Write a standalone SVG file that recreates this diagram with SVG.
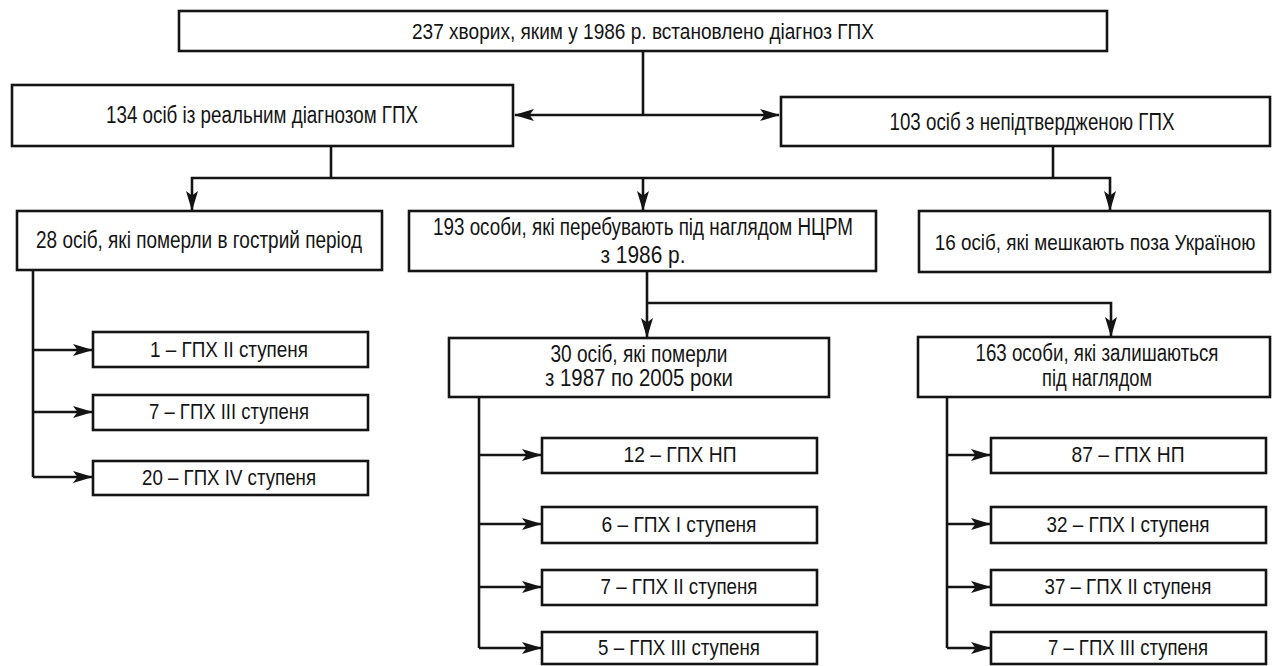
<svg xmlns="http://www.w3.org/2000/svg" width="1280" height="666" viewBox="0 0 1280 666">
<defs>
<style>
.box{fill:#fff;stroke:#141414;stroke-width:2.6}
.ln{fill:none;stroke:#141414;stroke-width:2.6}
.t{font-family:"Liberation Sans",Arial,sans-serif;font-size:23px;fill:#141414;text-anchor:middle}
.s{font-size:22px}
</style>
<marker id="ah" viewBox="0 0 20 13" refX="19" refY="6.5" markerWidth="20" markerHeight="13" markerUnits="userSpaceOnUse" orient="auto-start-reverse">
<path d="M0,0.5 L20,6.5 L0,12.5 L4.5,6.5 z" fill="#141414"/>
</marker>
</defs>
<rect width="1280" height="666" fill="#fff"/>
<g id="connectors">
<path class="ln" d="M643,51 V115"/>
<path class="ln" d="M515,115 H779" marker-start="url(#ah)" marker-end="url(#ah)"/>
<path class="ln" d="M331,146 V178"/>
<path class="ln" d="M1053,146 V178"/>
<path class="ln" d="M192,210 V178 H1110 V210" marker-start="url(#ah)" marker-end="url(#ah)"/>
<path class="ln" d="M643,178 V210" marker-end="url(#ah)"/>
<path class="ln" d="M33,270 V477"/>
<path class="ln" d="M33,350 H92" marker-end="url(#ah)"/>
<path class="ln" d="M33,412 H92" marker-end="url(#ah)"/>
<path class="ln" d="M33,477 H92" marker-end="url(#ah)"/>
<path class="ln" d="M647,271 V337" marker-end="url(#ah)"/>
<path class="ln" d="M647,303 H1111 V336" marker-end="url(#ah)"/>
<path class="ln" d="M479,397 V648"/>
<path class="ln" d="M479,455 H541" marker-end="url(#ah)"/>
<path class="ln" d="M479,524 H541" marker-end="url(#ah)"/>
<path class="ln" d="M479,587 H541" marker-end="url(#ah)"/>
<path class="ln" d="M479,648 H541" marker-end="url(#ah)"/>
<path class="ln" d="M947,397 V648"/>
<path class="ln" d="M947,455 H990" marker-end="url(#ah)"/>
<path class="ln" d="M947,524 H990" marker-end="url(#ah)"/>
<path class="ln" d="M947,587 H990" marker-end="url(#ah)"/>
<path class="ln" d="M947,648 H990" marker-end="url(#ah)"/>
</g>
<g id="n-top"><rect class="box" x="179" y="11" width="928" height="40"/><text class="t s" x="643" y="39" textLength="462" lengthAdjust="spacingAndGlyphs">237 хворих, яким у 1986 р. встановлено діагноз ГПХ</text></g>
<g id="n-real"><rect class="box" x="12" y="85" width="501" height="61"/><text class="t" x="262" y="123" textLength="312" lengthAdjust="spacingAndGlyphs">134 осіб із реальним діагнозом ГПХ</text></g>
<g id="n-unconf"><rect class="box" x="781" y="97" width="489" height="49"/><text class="t" x="1032" y="130" textLength="285" lengthAdjust="spacingAndGlyphs">103 осіб з непідтвердженою ГПХ</text></g>
<g id="n-died-acute"><rect class="box" x="17" y="211" width="365" height="59"/><text class="t" x="199" y="248" textLength="326" lengthAdjust="spacingAndGlyphs">28 осіб, які померли в гострий період</text></g>
<g id="n-observed"><rect class="box" x="409" y="211" width="467" height="60"/><text class="t" x="643" y="235" textLength="420" lengthAdjust="spacingAndGlyphs">193 особи, які перебувають під наглядом НЦРМ</text><text class="t" x="643" y="263" textLength="85" lengthAdjust="spacingAndGlyphs">з 1986 р.</text></g>
<g id="n-abroad"><rect class="box" x="919" y="211" width="351" height="61"/><text class="t" transform="translate(1095 250) scale(0.84 1)" x="0" y="0" style="font-size:22.5px">16 осіб, які мешкають поза Україною</text></g>
<g id="n-a1"><rect class="box" x="93" y="332" width="275" height="35"/><text class="t s" x="229" y="357" textLength="158" lengthAdjust="spacingAndGlyphs">1 – ГПХ II ступеня</text></g>
<g id="n-a2"><rect class="box" x="93" y="395" width="275" height="35"/><text class="t s" x="229" y="419" textLength="160" lengthAdjust="spacingAndGlyphs">7 – ГПХ III ступеня</text></g>
<g id="n-a3"><rect class="box" x="93" y="461" width="275" height="34"/><text class="t s" x="229" y="485" textLength="174" lengthAdjust="spacingAndGlyphs">20 – ГПХ IV ступеня</text></g>
<g id="n-died-later"><rect class="box" x="449" y="338" width="380" height="59"/><text class="t" x="639" y="362" textLength="177" lengthAdjust="spacingAndGlyphs">30 осіб, які померли</text><text class="t" x="639" y="386" textLength="188" lengthAdjust="spacingAndGlyphs">з 1987 по 2005 роки</text></g>
<g id="n-remain"><rect class="box" x="918" y="337" width="352" height="60"/><text class="t" x="1097" y="361" textLength="243" lengthAdjust="spacingAndGlyphs">163 особи, які залишаються</text><text class="t" x="1097" y="386" textLength="110" lengthAdjust="spacingAndGlyphs">під наглядом</text></g>
<g id="n-b1"><rect class="box" x="542" y="438" width="275" height="35"/><text class="t s" x="680" y="462" textLength="113" lengthAdjust="spacingAndGlyphs">12 – ГПХ НП</text></g>
<g id="n-b2"><rect class="box" x="542" y="507" width="275" height="36"/><text class="t s" x="679" y="532" textLength="155" lengthAdjust="spacingAndGlyphs">6 – ГПХ I ступеня</text></g>
<g id="n-b3"><rect class="box" x="542" y="570" width="275" height="35"/><text class="t s" x="679" y="594" textLength="157" lengthAdjust="spacingAndGlyphs">7 – ГПХ II ступеня</text></g>
<g id="n-b4"><rect class="box" x="542" y="632" width="275" height="32"/><text class="t s" x="679" y="655" textLength="162" lengthAdjust="spacingAndGlyphs">5 – ГПХ III ступеня</text></g>
<g id="n-c1"><rect class="box" x="991" y="438" width="275" height="35"/><text class="t s" x="1128" y="462" textLength="113" lengthAdjust="spacingAndGlyphs">87 – ГПХ НП</text></g>
<g id="n-c2"><rect class="box" x="991" y="507" width="275" height="36"/><text class="t s" x="1128" y="532" textLength="163" lengthAdjust="spacingAndGlyphs">32 – ГПХ I ступеня</text></g>
<g id="n-c3"><rect class="box" x="991" y="570" width="275" height="35"/><text class="t s" x="1128" y="594" textLength="167" lengthAdjust="spacingAndGlyphs">37 – ГПХ II ступеня</text></g>
<g id="n-c4"><rect class="box" x="991" y="632" width="275" height="32"/><text class="t s" x="1128" y="655" textLength="160" lengthAdjust="spacingAndGlyphs">7 – ГПХ III ступеня</text></g>
</svg>
